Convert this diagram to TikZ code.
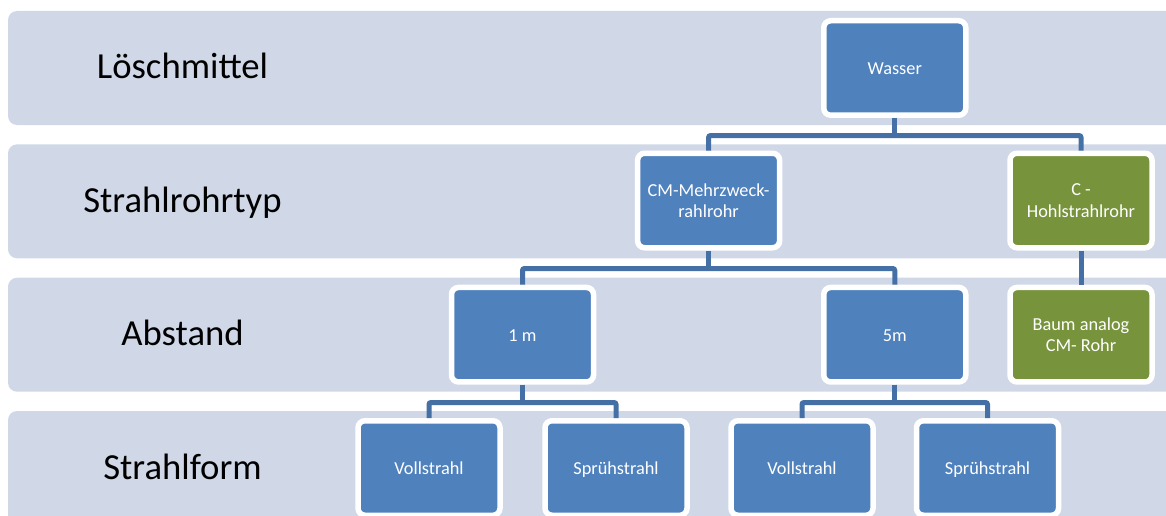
\documentclass[tikz,border=0pt]{standalone}
\usepackage{fontspec}
\setmainfont{Carlito}
\definecolor{bandfill}{HTML}{D0D8E8}
\definecolor{boxblue}{HTML}{4F81BD}
\definecolor{boxgreen}{HTML}{77933C}
\definecolor{connblue}{HTML}{4470A6}
\begin{document}
\begin{tikzpicture}[x=1pt,y=-1pt,
  band/.style={fill=bandfill, rounded corners=9pt},
  level/.style={font=\fontsize{36.7}{44}\selectfont, anchor=base, inner sep=0pt},
  box/.style={draw=white, line width=5.5pt, rounded corners=7pt,
    minimum width=142pt, minimum height=94.5pt, text=white, align=center,
    font=\fontsize{18.3}{21.5}\selectfont, inner sep=0pt},
  oneline/.style={text height=16pt, text depth=3.4pt},
  bluebox/.style={box, fill=boxblue},
  greenbox/.style={box, fill=boxgreen},
  conn/.style={draw=connblue, line width=5pt, rounded corners=2pt}]

\useasboundingbox (0,0) rectangle (1166,516);
\clip (0,0) rectangle (1166,516);

% horizontal bands, one per level
\path[band] (8,11) rectangle (1190,125);
\path[band] (8,144.3) rectangle (1190,258.3);
\path[band] (8,277.7) rectangle (1190,391.7);
\path[band] (8,411) rectangle (1190,525);

% level names
\node[level] (l1) at (182.5,79) {Löschmittel};
\node[level] (l2) at (182.5,212.3) {Strahlrohrtyp};
\node[level] (l3) at (182.5,345.7) {Abstand};
\node[level] (l4) at (182.5,479) {Strahlform};

% hierarchy boxes
\node[bluebox, oneline] (wasser) at (894.75,68)    {Wasser};
\node[bluebox]          (cm)     at (708.6,200.5)  {CM-Mehrzweck-\\rahlrohr};
\node[greenbox]         (hohl)   at (1081,200.5)   {C -\\Hohlstrahlrohr};
\node[bluebox, oneline] (m1)     at (522.5,334.7)  {1 m};
\node[bluebox, oneline] (m5)     at (894.75,334.7) {5m};
\node[greenbox]         (baum)   at (1081,334.7)   {Baum analog\\CM- Rohr};
\node[bluebox, oneline] (v1)     at (429,468)      {Vollstrahl};
\node[bluebox, oneline] (s1)     at (616,468)      {Sprühstrahl};
\node[bluebox, oneline] (v2)     at (802,468)      {Vollstrahl};
\node[bluebox, oneline] (s2)     at (987.5,468)    {Sprühstrahl};

% connector bus heights
\coordinate (bus1) at (0,135.5);
\coordinate (bus2) at (0,268.5);
\coordinate (bus3) at (0,402.5);

% connectors
\draw[conn] (wasser.south) -- (wasser.south |- bus1);
\draw[conn] (cm.north) |- (wasser.south |- bus1) -| (hohl.north);

\draw[conn] (cm.south) -- (cm.south |- bus2);
\draw[conn] (m1.north) |- (cm.south |- bus2) -| (m5.north);

\draw[conn] (hohl.south) -- (baum.north);

\draw[conn] (m1.south) -- (m1.south |- bus3);
\draw[conn] (v1.north) |- (m1.south |- bus3) -| (s1.north);

\draw[conn] (m5.south) -- (m5.south |- bus3);
\draw[conn] (v2.north) |- (m5.south |- bus3) -| (s2.north);
\end{tikzpicture}
\end{document}
